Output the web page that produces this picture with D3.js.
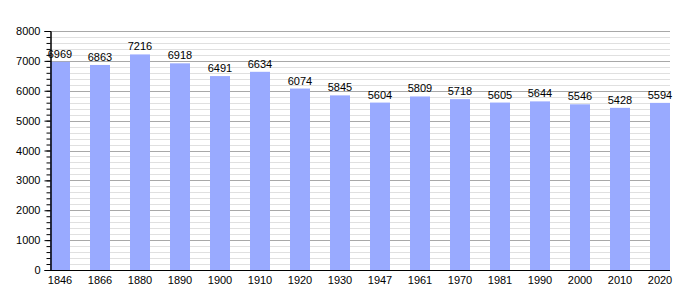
<html>
<head>
<script src="https://d3js.org/d3.v7.min.js"></script>
<style>
  body { margin: 0; background: #fff; }
  text { font-family: "Liberation Sans", Arial, sans-serif; font-size: 11px; fill: #000; }
</style>
</head>
<body>
<div id="output"></div>
<script>
    var years = ['1846', '1866', '1880', '1890', '1900', '1910', '1920', '1930',
                 '1947', '1961', '1970', '1981', '1990', '2000', '2010', '2020'];
    var population = [6969, 6863, 7216, 6918, 6491, 6634, 6074, 5845,
                      5604, 5809, 5718, 5605, 5644, 5546, 5428, 5594];
    var majorTicks = [0, 1000, 2000, 3000, 4000, 5000, 6000, 7000, 8000];

    var width = 700, height = 300;
    var plotLeft = 50, plotRight = 670, plotTop = 31, plotBottom = 270;

    var svg = d3.select('#output').append('svg')
        .attr('width', width)
        .attr('height', height);

    var x = d3.scaleBand()
        .domain(years)
        .range([plotLeft, plotRight])
        .paddingInner(0.5)
        .paddingOuter(0);

    var y = d3.scaleLinear()
        .domain([0, 8000])
        .range([plotBottom, plotTop]);

    // minor grid every 200
    svg.append('g').selectAll('line')
        .data(d3.range(0, 8001, 200).filter(v => v % 1000 != 0))
        .enter().append('line')
        .attr('x1', plotLeft).attr('x2', plotRight)
        .attr('y1', d => Math.round(y(d)) + 0.5)
        .attr('y2', d => Math.round(y(d)) + 0.5)
        .attr('stroke', '#e0e0e0');

    // major grid
    svg.append('g').selectAll('line')
        .data(majorTicks.slice(1))
        .enter().append('line')
        .attr('x1', plotLeft).attr('x2', plotRight)
        .attr('y1', d => Math.round(y(d)) + 0.5)
        .attr('y2', d => Math.round(y(d)) + 0.5)
        .attr('stroke', '#a8a8a8');

    // bars
    svg.append('g').selectAll('rect')
        .data(population)
        .enter().append('rect')
        .attr('x', (d, i) => x(years[i]))
        .attr('width', x.bandwidth())
        .attr('y', d => y(d))
        .attr('height', d => plotBottom - y(d))
        .attr('fill', '#99aaff');

    // value labels
    svg.append('g').selectAll('text')
        .data(population)
        .enter().append('text')
        .attr('x', (d, i) => x(years[i]) + x.bandwidth() / 2)
        .attr('y', d => y(d) - 4)
        .attr('text-anchor', 'middle')
        .text(d => d);

    // y axis with minor ticks
    var yAxis = svg.append('g')
        .attr('transform', 'translate(' + (plotLeft + 0.5) + ',0)');
    yAxis.append('g').call(d3.axisLeft(y).tickValues(d3.range(0, 8001, 200)).tickSize(4).tickFormat(''));
    yAxis.append('g').call(d3.axisLeft(y).tickValues(majorTicks).tickSize(6).tickFormat(d => d));
    yAxis.selectAll('.domain').attr('stroke', '#000');
    yAxis.selectAll('text').attr('font-size', 11).attr('font-family', 'Liberation Sans, Arial, sans-serif').attr('x', -10);

    // x axis
    var xAxis = svg.append('g')
        .attr('transform', 'translate(0,' + (plotBottom + 0.5) + ')');
    xAxis.call(d3.axisBottom(x).tickSize(0).tickPadding(6));
    xAxis.select('.domain').attr('stroke', '#000').attr('d', 'M' + plotLeft + ',0H' + plotRight);
    xAxis.selectAll('text').attr('font-size', 11).attr('font-family', 'Liberation Sans, Arial, sans-serif');
</script>
</body>
</html>
